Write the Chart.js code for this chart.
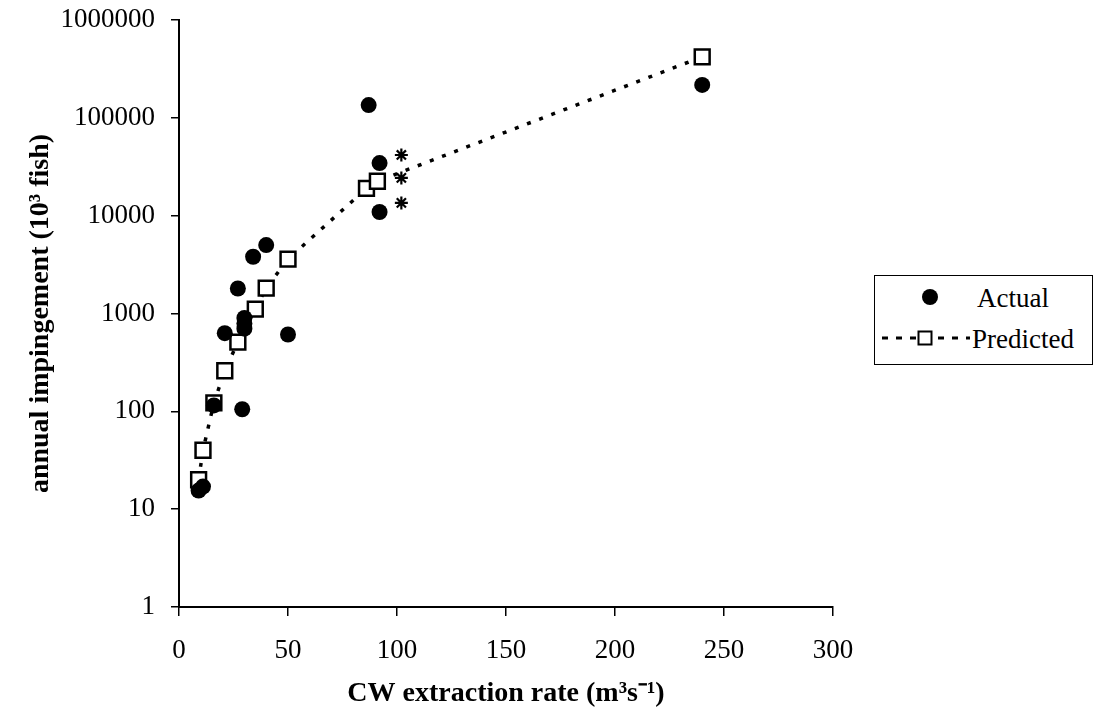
<!DOCTYPE html>
<html>
<head>
<meta charset="utf-8">
<script src="https://cdn.jsdelivr.net/npm/chart.js@4/dist/chart.umd.min.js"></script>
<style>
  html, body { margin: 0; padding: 0; background: #fff; }
  #wrap { position: relative; width: 1097px; height: 721px; }
  #legend { position: absolute; left: 874px; top: 275px; width: 219px; height: 90px;
            box-sizing: border-box; border: 1.5px solid #000; background: #fff;
            font-family: "Liberation Serif", "Times New Roman", serif; font-size: 27px; color: #000; }
  .lg { position: absolute; transform: translateY(-50%); white-space: nowrap; line-height: 1; }
  .dot { position: absolute; width: 16px; height: 16px; border-radius: 50%; background: #000; transform: translate(-50%, -50%); }
  .dash { position: absolute; height: 3px; transform: translateY(-50%);
          background: repeating-linear-gradient(to right, #000 0 6px, transparent 6px 14px); }
  .sq { position: absolute; width: 11px; height: 11px; border: 2.5px solid #000; background: #fff; transform: translate(-50%, -50%); }
</style>
</head>
<body>
<div id="wrap">
  <canvas id="c" width="1097" height="721"></canvas>
  <div id="legend">
    <div class="dot" style="left:55px; top:21px;"></div>
    <div class="lg" style="left:102px; top:22px;">Actual</div>
    <div class="dash" style="left:7px; width:88px; top:62px;"></div>
    <div class="sq" style="left:50px; top:62px;"></div>
    <div class="lg" style="left:97px; top:63px;">Predicted</div>
  </div>
</div>
<script>
// ---- data ----
const actualX = [9, 11, 16, 21, 27, 29, 30, 30, 30, 34, 40, 50, 87, 92, 92, 240];
const actualY = [15.5, 17, 115, 630, 1800, 105, 700, 790, 900, 3800, 5000, 610, 135000, 34500, 10900, 217000];

const predictedX = [9, 11, 16, 21, 27, 35, 40, 50, 86, 91, 240];
const predictedY = [20, 40, 122, 260, 510, 1110, 1820, 3600, 19000, 22500, 420000];

const starX = [102, 102, 102];
const starY = [41700, 24300, 13500];

const yTickValues = [1, 10, 100, 1000, 10000, 100000, 1000000];
const xTickValues = [0, 50, 100, 150, 200, 250, 300];

const xTitle = 'CW extraction rate (m\u00B3s\u207B\u00B9)';
const yTitle = 'annual impingement (10\u00B3 fish)';

const toPts = (xs, ys) => xs.map((x, i) => ({ x: x, y: ys[i] }));
const serif = '"Liberation Serif", "Times New Roman", serif';

new Chart(document.getElementById('c'), {
  type: 'scatter',
  data: {
    datasets: [
      {
        label: 'Actual',
        data: toPts(actualX, actualY),
        showLine: false,
        pointStyle: 'circle',
        pointRadius: 8,
        pointBackgroundColor: '#000',
        pointBorderColor: '#000',
        pointBorderWidth: 0
      },
      {
        label: '',
        data: toPts(starX, starY),
        showLine: false,
        pointStyle: 'star',
        pointRadius: 6.5,
        pointBorderColor: '#000',
        pointBorderWidth: 2.2
      },
      {
        label: 'Predicted',
        data: toPts(predictedX, predictedY),
        showLine: true,
        borderColor: '#000',
        borderWidth: 3.5,
        borderDash: [4, 9],
        borderCapStyle: 'butt',
        tension: 0,
        pointStyle: 'rect',
        pointRadius: 10.5,
        pointBackgroundColor: '#fff',
        pointBorderColor: '#000',
        pointBorderWidth: 2.5
      }
    ]
  },
  options: {
    responsive: false,
    animation: false,
    layout: { padding: { top: 20, right: 264, bottom: 0, left: 0 } },
    plugins: { legend: { display: false }, tooltip: { enabled: false } },
    scales: {
      x: {
        type: 'linear',
        min: 0, max: 300,
        afterBuildTicks: (axis) => { axis.ticks = xTickValues.map(v => ({ value: v })); },
        afterFit: (axis) => { axis.height = 114; },
        border: { display: true, color: '#000', width: 2 },
        grid: { drawOnChartArea: false, drawTicks: true, tickLength: 9, color: '#000', lineWidth: 1.5 },
        ticks: { color: '#000', font: { family: serif, size: 27 }, padding: 19, maxRotation: 0 },
        title: { display: true, text: xTitle, color: '#000',
                 font: { family: serif, size: 28, weight: 'bold' }, padding: { top: 0, bottom: 10 } }
      },
      y: {
        type: 'logarithmic',
        min: 1, max: 1000000,
        afterBuildTicks: (axis) => { axis.ticks = yTickValues.map(v => ({ value: v })); },
        afterFit: (axis) => { axis.width = 179; axis.paddingTop = 0; axis.paddingBottom = 0; },
        border: { display: true, color: '#000', width: 2 },
        grid: { drawOnChartArea: false, drawTicks: true, tickLength: 8, color: '#000', lineWidth: 1.5 },
        ticks: { color: '#000', font: { family: serif, size: 27 }, padding: 16,
                 callback: (v) => String(v) },
        title: { display: true, text: yTitle, color: '#000',
                 font: { family: serif, size: 28, weight: 'bold' }, padding: { top: 24, bottom: 0 } }
      }
    }
  }
});
</script>
</body>
</html>
